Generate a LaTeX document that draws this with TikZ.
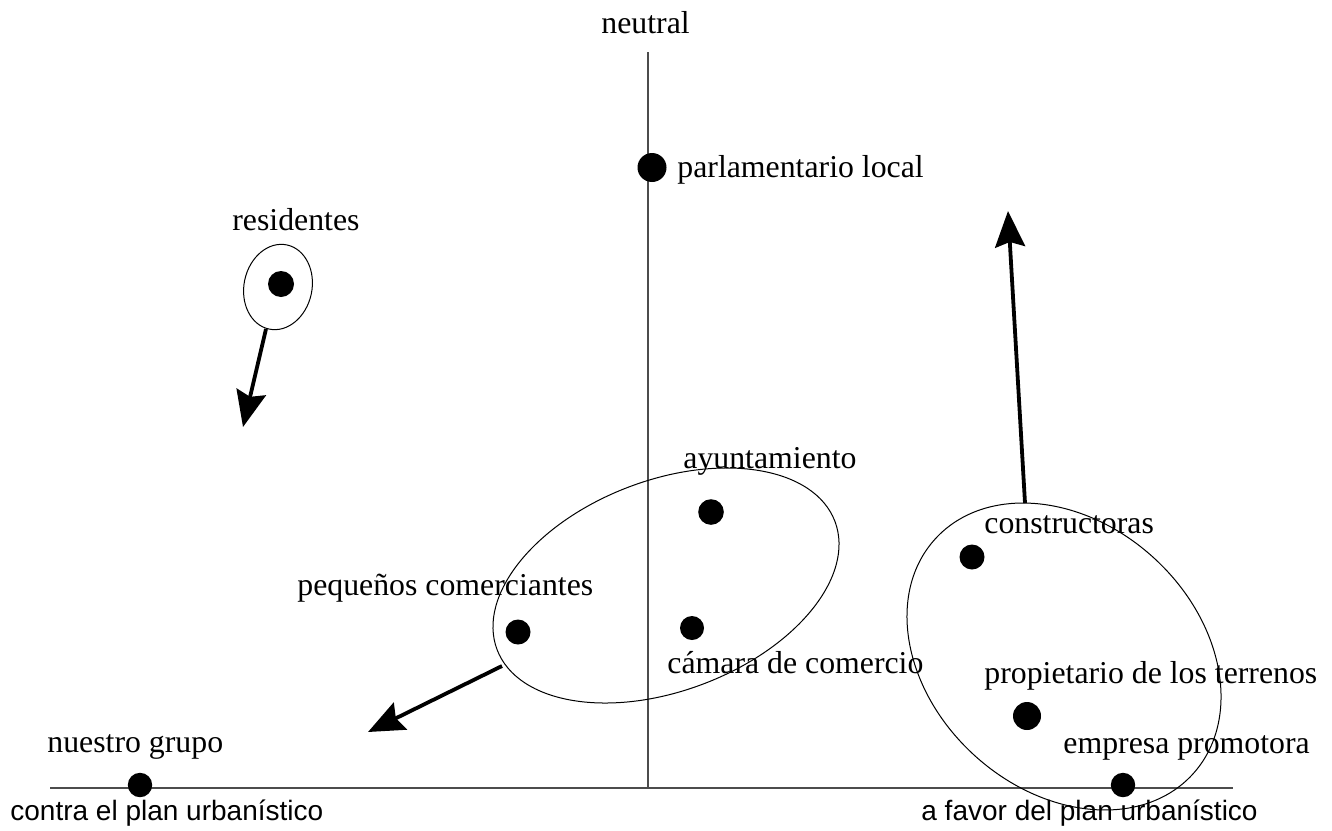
\documentclass[tikz,border=0pt]{standalone}
\usepackage{fontspec}
\setmainfont{Liberation Serif}
\newfontfamily\axisfont{Liberation Sans}
\usetikzlibrary{arrows.meta,shapes.geometric}
\tikzset{
  dot/.style={circle, fill=black, inner sep=0pt, minimum size=12.5pt},
  lbl/.style={anchor=base west, inner sep=0pt, font=\fontsize{15.9}{18}\selectfont},
  axlbl/.style={anchor=base west, inner sep=0pt, font=\axisfont\fontsize{14}{16}\selectfont},
  axis/.style={draw=black!70, line width=0.6pt},
  group/.style={draw=black, line width=0.5pt},
  move/.style={line width=1.9pt, -{Stealth[length=18pt, width=15pt, inset=2.5pt]}}
}
\begin{document}
\begin{tikzpicture}[x=0.5pt, y=-0.5pt]
\useasboundingbox (0,0) rectangle (1332,830);
% axes
\coordinate (vtop) at (648,52);
\coordinate (vbot) at (648,788);
\coordinate (hl) at (50,788);
\coordinate (hr) at (1233,788);
\draw[axis] (vtop) -- (vbot);
\draw[axis] (hl) -- (hr);
% group ellipses
\draw[group, rotate around={-12:(278,287)}] (278,287) ellipse [x radius=17pt, y radius=21.5pt];
\draw[group, rotate around={20.8:(666,585.5)}] (666,585.5) ellipse [x radius=90.35pt, y radius=52.65pt];
\draw[group, rotate around={-42.5:(1064,656.5)}] (1064,656.5) ellipse [x radius=87.2pt, y radius=66.7pt];
% dots
\node[dot, minimum size=14.5pt] (parl) at (652,167.5) {};
\node[dot, minimum size=13pt] (resid) at (281,284) {};
\node[dot, minimum size=12.8pt] (ayunt) at (711,512) {};
\node[dot, minimum size=12pt] (camara) at (692,628) {};
\node[dot] (peq) at (518,632) {};
\node[dot] (constr) at (972,557) {};
\node[dot, minimum size=14pt] (prop) at (1027,716) {};
\node[dot, minimum size=12.2pt] (empresa) at (1123,785) {};
\node[dot, minimum size=12.2pt] (nuestro) at (140,785) {};
% labels
\node[lbl] (lneutral) at (601,33) {neutral};
\node[lbl] (lparl) at (677,177) {parlamentario local};
\node[lbl] (lresid) at (232,230) {residentes};
\node[lbl] (layunt) at (683,468) {ayuntamiento};
\node[lbl] (lpeq) at (297,595) {pequeños comerciantes};
\node[lbl] (lcamara) at (667,673) {cámara de comercio};
\node[lbl] (lconstr) at (984,533) {constructoras};
\node[lbl] (lprop) at (984,683) {propietario de los terrenos};
\node[lbl] (lempresa) at (1063,753) {empresa promotora};
\node[lbl] (lnuestro) at (47,752) {nuestro grupo};
\node[axlbl] (lcontra) at (10,820) {contra el plan urbanístico};
\node[axlbl] (lfavor) at (921,820) {a favor del plan urbanístico};
% movement arrows
\coordinate (a1s) at (266,329);
\coordinate (a1e) at (243,427);
\coordinate (a2s) at (502,666);
\coordinate (a2e) at (368,732);
\coordinate (a3s) at (1025,503);
\coordinate (a3e) at (1008,211);
\draw[move] (a1s) -- (a1e);
\draw[move] (a2s) -- (a2e);
\draw[move] (a3s) -- (a3e);
\end{tikzpicture}
\end{document}
